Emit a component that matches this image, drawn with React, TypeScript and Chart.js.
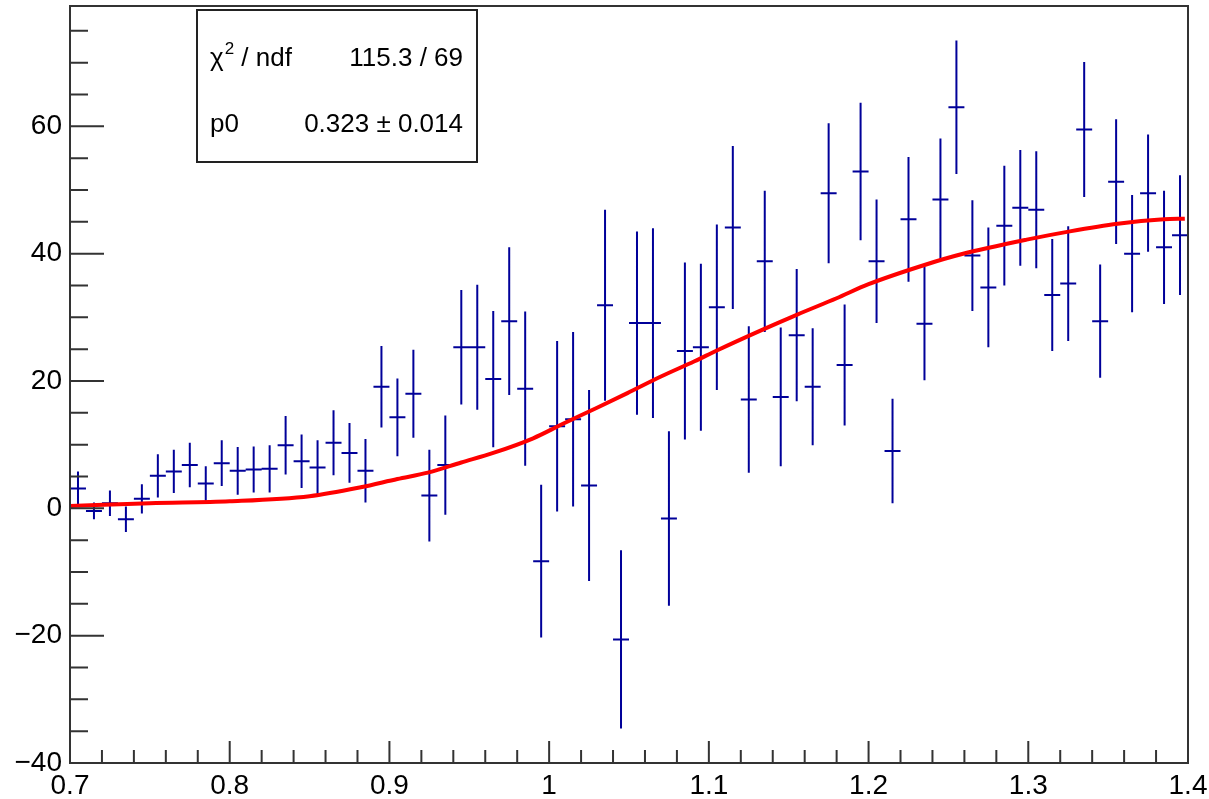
import React, { useEffect, useRef } from 'react';
import { Chart, registerables } from 'chart.js';

Chart.register(...registerables);

// ---- data ----
const BIN_WIDTH = 0.01;
const binCenters = [
  0.705, 0.715, 0.725, 0.735, 0.745, 0.755, 0.765, 0.775, 0.785, 0.795,
  0.805, 0.815, 0.825, 0.835, 0.845, 0.855, 0.865, 0.875, 0.885, 0.895,
  0.905, 0.915, 0.925, 0.935, 0.945, 0.955, 0.965, 0.975, 0.985, 0.995,
  1.005, 1.015, 1.025, 1.035, 1.045, 1.055, 1.065, 1.075, 1.085, 1.095,
  1.105, 1.115, 1.125, 1.135, 1.145, 1.155, 1.165, 1.175, 1.185, 1.195,
  1.205, 1.215, 1.225, 1.235, 1.245, 1.255, 1.265, 1.275, 1.285, 1.295,
  1.305, 1.315, 1.325, 1.335, 1.345, 1.355, 1.365, 1.375, 1.385, 1.395,
];
const counts = [
  3.1, -0.4, 0.8, -1.7, 1.5, 5.1, 5.8, 6.8, 3.9, 7.1,
  5.9, 6.1, 6.2, 9.9, 7.4, 6.4, 10.3, 8.7, 5.9, 19.1,
  14.3, 18.0, 2.0, 6.8, 25.3, 25.3, 20.3, 29.4, 18.8, -8.3,
  12.9, 14.0, 3.6, 31.9, -20.6, 29.1, 29.1, -1.6, 24.7, 25.3,
  31.6, 44.1, 17.1, 38.8, 17.5, 27.2, 19.1, 49.5, 22.5, 52.9,
  38.8, 9.0, 45.4, 29.0, 48.5, 63.0, 39.7, 34.7, 44.4, 47.2,
  46.9, 33.5, 35.3, 59.5, 29.4, 51.3, 40.0, 49.5, 41.0, 42.9,
];
const errors = [
  2.7, 1.3, 2.0, 2.0, 2.3, 3.4, 3.4, 3.5, 2.7, 3.6,
  3.75, 3.6, 3.7, 4.6, 4.2, 4.3, 5.1, 4.7, 5.0, 6.4,
  6.1, 6.9, 7.2, 7.8, 9.0, 9.8, 10.7, 11.6, 12.1, 12.0,
  13.4, 13.7, 15.0, 15.0, 14.0, 14.4, 14.9, 13.7, 13.9, 13.1,
  13.0, 12.8, 11.5, 11.1, 10.9, 10.4, 9.2, 11.0, 9.5, 10.8,
  9.7, 8.2, 9.8, 8.9, 9.6, 10.5, 8.7, 9.4, 9.4, 9.1,
  9.2, 8.8, 9.0, 10.6, 8.9, 9.8, 9.2, 9.2, 8.9, 9.4,
];
const fitX = [
  0.700, 0.750, 0.800, 0.850, 0.882, 0.905, 0.924, 0.945, 0.965, 0.990,
  1.008, 1.030, 1.049, 1.070, 1.091, 1.105, 1.133, 1.155, 1.180, 1.200,
  1.236, 1.258, 1.299, 1.326, 1.356, 1.385, 1.398,
];
const fitY = [
  0.35, 0.8, 1.1, 1.9, 3.3, 4.6, 5.6, 7.2, 8.7, 11.0,
  13.2, 15.8, 18.1, 20.7, 23.1, 24.8, 28.0, 30.4, 33.0, 35.2,
  38.3, 39.9, 42.2, 43.5, 44.7, 45.4, 45.5,
];
const xTickLabels = ['0.7', '0.8', '0.9', '1', '1.1', '1.2', '1.3', '1.4'];
const yTickLabels = ['\u221240', '\u221220', '0', '20', '40', '60'];
const statsNames = ['\u03c7', 'p0'];
const statsSup = ['2', ''];
const statsRest = [' / ndf', ''];
const statsValues = ['115.3 / 69', '0.323 \u00b1 0.014'];

const X_MIN = 0.7;
const X_MAX = 1.4;
const Y_MIN = -40;
const Y_MAX = 78.9;

const FONT = '"Liberation Sans", Arial, Helvetica, sans-serif';
const BLUE = '#000099';
const FRAME = '#333333';

const errorBarsPlugin = {
  id: 'errorBars',
  beforeDatasetsDraw(chart: any) {
    const { ctx, scales } = chart;
    const xs = scales.x;
    const ys = scales.y;
    ctx.save();
    ctx.strokeStyle = BLUE;
    ctx.lineWidth = 2;
    ctx.beginPath();
    for (let i = 0; i < binCenters.length; i++) {
      const x = xs.getPixelForValue(binCenters[i]);
      const y = ys.getPixelForValue(counts[i]);
      const y1 = ys.getPixelForValue(counts[i] + errors[i]);
      const y2 = ys.getPixelForValue(counts[i] - errors[i]);
      const xl = xs.getPixelForValue(binCenters[i] - BIN_WIDTH / 2);
      const xr = xs.getPixelForValue(binCenters[i] + BIN_WIDTH / 2);
      ctx.moveTo(x, y1);
      ctx.lineTo(x, y2);
      ctx.moveTo(xl, y);
      ctx.lineTo(xr, y);
    }
    ctx.stroke();
    ctx.restore();
  },
};

const framePlugin = {
  id: 'frameTicks',
  afterDatasetsDraw(chart: any) {
    const { ctx, chartArea, scales } = chart;
    const { left, right, top, bottom } = chartArea;
    ctx.save();
    ctx.strokeStyle = FRAME;
    ctx.lineWidth = 2;
    ctx.beginPath();
    for (const t of scales.x.ticks) {
      const v = t.value;
      const k = (v - X_MIN) * 10;
      const major = Math.abs(k - Math.round(k)) < 1e-6;
      const px = scales.x.getPixelForValue(v);
      ctx.moveTo(px, bottom);
      ctx.lineTo(px, bottom - (major ? 22 : 13));
    }
    for (const t of scales.y.ticks) {
      const v = t.value;
      const major = Math.abs(v % 20) < 1e-6;
      const py = scales.y.getPixelForValue(v);
      ctx.moveTo(left, py);
      ctx.lineTo(left + (major ? 34 : 18), py);
    }
    ctx.stroke();
    ctx.strokeRect(left, top, right - left, bottom - top);
    ctx.restore();
  },
};

const statsPlugin = {
  id: 'statsBox',
  afterDraw(chart: any) {
    const ctx = chart.ctx;
    ctx.save();
    ctx.fillStyle = '#ffffff';
    ctx.fillRect(197, 10, 280, 152);
    ctx.strokeStyle = '#222222';
    ctx.lineWidth = 2;
    ctx.strokeRect(197, 10, 280, 152);
    ctx.fillStyle = '#000000';
    ctx.textBaseline = 'alphabetic';
    const baselines = [66, 132];
    for (let r = 0; r < statsNames.length; r++) {
      const yb = baselines[r];
      let x = 210;
      ctx.textAlign = 'left';
      ctx.font = `26px ${FONT}`;
      ctx.fillText(statsNames[r], x, yb);
      x += ctx.measureText(statsNames[r]).width + 1;
      if (statsSup[r]) {
        ctx.font = `17px ${FONT}`;
        ctx.fillText(statsSup[r], x, yb - 12);
        x += ctx.measureText(statsSup[r]).width;
      }
      if (statsRest[r]) {
        ctx.font = `26px ${FONT}`;
        ctx.fillText(statsRest[r], x, yb);
      }
      ctx.font = `26px ${FONT}`;
      ctx.textAlign = 'right';
      ctx.fillText(statsValues[r], 463, yb);
    }
    ctx.restore();
  },
};

export default function App() {
  const ref = useRef<HTMLCanvasElement>(null);
  useEffect(() => {
    const canvas = ref.current;
    if (!canvas) return;
    const chart = new Chart(canvas, {
      type: 'scatter',
      data: {
        datasets: [
          {
            type: 'scatter',
            label: 'hist',
            data: binCenters.map((x, i) => ({ x, y: counts[i] })),
            pointRadius: 0,
            showLine: false,
          } as any,
          {
            type: 'line',
            label: 'fit',
            data: fitX.map((x, i) => ({ x, y: fitY[i] })),
            borderColor: '#ff0000',
            borderWidth: 4,
            pointRadius: 0,
            cubicInterpolationMode: 'monotone',
            fill: false,
          } as any,
        ],
      },
      options: {
        animation: false,
        responsive: false,
        devicePixelRatio: 1,
        layout: { padding: { top: 6, right: 21, left: 0, bottom: 0 } },
        plugins: { legend: { display: false }, tooltip: { enabled: false } },
        scales: {
          x: {
            type: 'linear',
            min: X_MIN,
            max: X_MAX,
            bounds: 'data',
            grid: { display: false, drawTicks: false },
            border: { display: false },
            ticks: {
              stepSize: 0.02,
              autoSkip: false,
              maxRotation: 0,
              minRotation: 0,
              includeBounds: false,
              padding: 6,
              color: '#000000',
              font: { family: FONT, size: 28 },
              callback: (value: any) => {
                const k = (Number(value) - X_MIN) * 10;
                const r = Math.round(k);
                return Math.abs(k - r) < 1e-6 ? xTickLabels[r] : '';
              },
            },
            afterFit: (s: any) => {
              s.height = 36;
              s.paddingLeft = 0;
              s.paddingRight = 0;
              s.paddingTop = 0;
              s.paddingBottom = 0;
            },
          },
          y: {
            type: 'linear',
            min: Y_MIN,
            max: Y_MAX,
            bounds: 'data',
            grid: { display: false, drawTicks: false },
            border: { display: false },
            ticks: {
              stepSize: 5,
              autoSkip: false,
              includeBounds: false,
              padding: 8,
              color: '#000000',
              font: { family: FONT, size: 28 },
              callback: (value: any) => {
                const v = Number(value);
                if (Math.abs(v % 20) < 1e-6) {
                  return yTickLabels[Math.round((v - Y_MIN) / 20)];
                }
                return '';
              },
            },
            afterFit: (s: any) => {
              s.width = 70;
              s.paddingLeft = 0;
              s.paddingRight = 0;
              s.paddingTop = 0;
              s.paddingBottom = 0;
            },
          },
        },
      } as any,
      plugins: [errorBarsPlugin, framePlugin, statsPlugin],
    });
    return () => chart.destroy();
  }, []);
  return (
    <div style={{ position: 'fixed', left: 0, top: 0, width: 1209, height: 799, background: '#ffffff' }}>
      <canvas ref={ref} width={1209} height={799} style={{ display: 'block' }} />
    </div>
  );
}
